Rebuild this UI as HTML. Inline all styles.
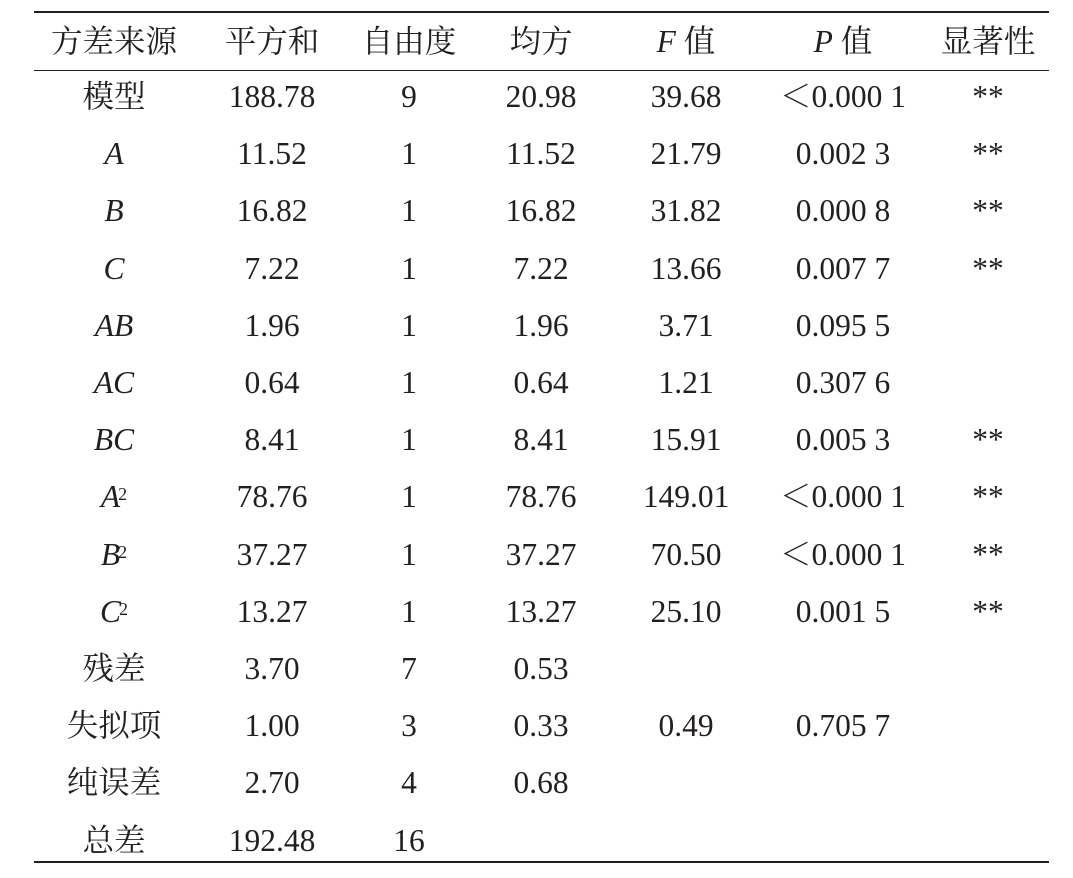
<!DOCTYPE html>
<html><head><meta charset="utf-8"><style>
body{margin:0;background:#fff;width:1073px;height:878px;position:relative;overflow:hidden;font-family:"Liberation Serif","Noto Serif CJK SC",serif;color:#231f20;}
.l{position:absolute;left:34px;width:1015px;background:#231f20;}
.c{position:absolute;width:200px;margin-left:-100px;text-align:center;font-size:31.5px;line-height:36px;white-space:nowrap;}
i{font-style:italic}
sup{font-size:18px;vertical-align:top;position:relative;top:-3px;margin-left:-2px}
</style></head><body>
<div class="l" style="top:11px;height:2px"></div>
<div class="l" style="top:70px;height:1px"></div>
<div class="l" style="top:861px;height:2px"></div>
<div id="t"></div>
<script>
var xs=[114,272,409,541,686,843,988];
var rows=[
["方差来源","平方和","自由度","均方","<i>F</i> 值","<i>P</i> 值","显著性"],
["模型","188.78","9","20.98","39.68","&lt;0.000 1","**"],
["<i>A</i>","11.52","1","11.52","21.79","0.002 3","**"],
["<i>B</i>","16.82","1","16.82","31.82","0.000 8","**"],
["<i>C</i>","7.22","1","7.22","13.66","0.007 7","**"],
["<i>AB</i>","1.96","1","1.96","3.71","0.095 5",""],
["<i>AC</i>","0.64","1","0.64","1.21","0.307 6",""],
["<i>BC</i>","8.41","1","8.41","15.91","0.005 3","**"],
["<i>A</i><sup>2</sup>","78.76","1","78.76","149.01","&lt;0.000 1","**"],
["<i>B</i><sup>2</sup>","37.27","1","37.27","70.50","&lt;0.000 1","**"],
["<i>C</i><sup>2</sup>","13.27","1","13.27","25.10","0.001 5","**"],
["残差","3.70","7","0.53","","",""],
["失拟项","1.00","3","0.33","0.49","0.705 7",""],
["纯误差","2.70","4","0.68","","",""],
["总差","192.48","16","","","",""]];
var h="";
rows.forEach(function(r,i){var y=(i==0?42:97+(i-1)*57.2)-18;
r.forEach(function(t,j){var s=t.replace("&lt;","＜");h+='<div class="c" style="left:'+xs[j]+'px;top:'+y+'px">'+s+'</div>';});});
document.getElementById("t").innerHTML=h;
</script>
</body></html>
